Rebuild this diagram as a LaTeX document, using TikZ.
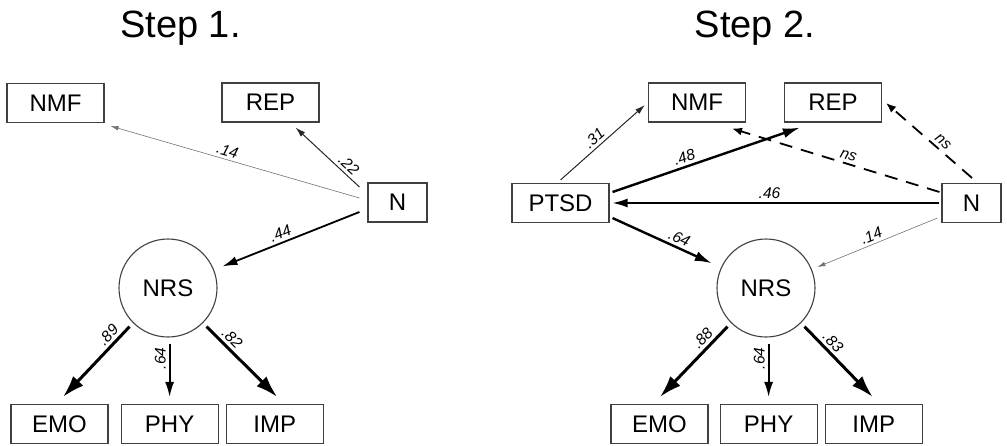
\documentclass[tikz,border=0pt]{standalone}
\usepackage{fontspec}
\setmainfont{Liberation Sans}
\usetikzlibrary{arrows.meta,positioning,calc}

\begin{document}
\begin{tikzpicture}[
    x=1pt,y=-1pt,
    node distance=7pt,
    obs/.style={draw=black!75,line width=1.1pt,minimum width=97pt,minimum height=39pt,inner sep=0pt,font=\fontsize{24}{28}\selectfont},
    lat/.style={draw=black!75,line width=1.1pt,circle,minimum size=98pt,inner sep=0pt,font=\fontsize{24}{28}\selectfont},
    ttl/.style={font=\fontsize{38}{44}\selectfont,anchor=base},
    coef/.style={font=\fontsize{15.5}{17}\selectfont\itshape,sloped,above,inner sep=3pt},
    coefv/.style={font=\fontsize{15.5}{17}\selectfont\itshape,rotate=90,above,inner sep=3pt},
    w1/.style={line width=0.6pt,draw=black!55,-{Latex[length=8pt,width=4.5pt]}},
    w2/.style={line width=1pt,draw=black!85,-{Latex[length=10pt,width=6pt]}},
    w3/.style={line width=1.8pt,-{Latex[length=15pt,width=9pt]}},
    w4/.style={line width=2.4pt,-{Latex[length=17pt,width=10pt]}},
    w5/.style={line width=3pt,-{Latex[length=22pt,width=14pt]}},
    ns/.style={line width=1.8pt,dash pattern=on 13pt off 9pt,-{Latex[length=10pt,width=8pt]}}
  ]
  \useasboundingbox (0,0) rectangle (1007,445);

  % Step 1
  \node[ttl] (t1) at (180.5,37) {Step 1.};
  \node[obs] (NMF1) at (55.5,103) {NMF};
  \node[obs] (REP1) at (270.5,102.5) {REP};
  \node[obs,minimum width=59pt] (N1) at (397.5,202.5) {N};
  \node[lat] (NRS1) at (168,288) {NRS};
  \node[obs] (EMO1) at (59.5,424) {EMO};
  \node[obs,right=12pt of EMO1] (PHY1) {PHY};
  \node[obs,right=of PHY1] (IMP1) {IMP};

  \draw[w1] ($(N1.west)+(-8,-4.5)$) -- node[coef,pos=.54]{.14} ($(NMF1.south east)+(6,3)$);
  \draw[w2] ($(N1.west)+(-8,-15.5)$) -- node[coef,pos=.26]{.22} ($(REP1.south east)+(-24,5)$);
  \draw[w3,shorten >=9pt] ($(N1.west)+(-8,9.5)$) -- node[coef,pos=.52]{.44} (NRS1);
  \draw[w5,shorten <=5pt] (NRS1.225) -- node[coef,pos=.25]{.89} ($(EMO1.north)+(3.5,-7)$);
  \draw[w3,shorten <=6pt] (NRS1.south -| PHY1.north) -- node[coefv,pos=.35]{.64} ($(PHY1.north)+(0,-7)$);
  \draw[w5,shorten <=5pt] (NRS1.-45) -- node[coef,pos=.3]{.82} ($(IMP1.north)+(2.5,-7)$);

  % Step 2
  \node[ttl] (t2) at (755,37) {Step 2.};
  \node[obs] (PTSD2) at (560.5,203) {PTSD};
  \node[obs] (NMF2) at (697,102.5) {NMF};
  \node[obs] (REP2) at (833,102.5) {REP};
  \node[obs,minimum width=59pt] (N2) at (971.5,203) {N};
  \node[lat] (NRS2) at (766,288) {NRS};
  \node[obs] (EMO2) at (659.5,424) {EMO};
  \node[obs,right=11pt of EMO2] (PHY2) {PHY};
  \node[obs,right=of PHY2] (IMP2) {IMP};

  \draw[w2] ($(PTSD2.north)+(0,-3)$) -- node[coef,pos=.47]{.31} ($(NMF2.west)+(-3,2.5)$);
  \draw[w4] ($(PTSD2.east)+(3,-11)$) -- node[coef,pos=.4]{.48} ($(REP2.south west)+(16,5)$);
  \draw[ns] ($(N2.west)+(-2,-11)$) -- node[coef,pos=.45]{ns} ($(NMF2.south east)+(-14,6)$);
  \draw[ns] ($(N2.north)+(0.5,-5)$) -- node[coef,pos=.4]{ns} ($(REP2.east)+(4,0.5)$);
  \draw[w3] ($(N2.west)+(-2,0)$) -- node[coef,pos=.52]{.46} ($(PTSD2.east)+(3,0)$);
  \draw[w1,shorten >=6pt] ($(N2.west)+(-4,15)$) -- node[coef,pos=.5]{.14} (NRS2);
  \draw[w4,shorten >=10pt] ($(PTSD2.south east)+(3,-5)$) -- node[coef,pos=.58]{.64} (NRS2);
  \draw[w5,shorten <=5pt] (NRS2.225) -- node[coef,pos=.3]{.88} ($(EMO2.north)+(0.5,-7)$);
  \draw[w3,shorten <=6pt] (NRS2.south -| PHY2.north) -- node[coefv,pos=.35]{.64} ($(PHY2.north)+(0,-7)$);
  \draw[w5,shorten <=5pt] (NRS2.-45) -- node[coef,pos=.35]{.83} ($(IMP2.north)+(-1,-7)$);
\end{tikzpicture}
\end{document}
